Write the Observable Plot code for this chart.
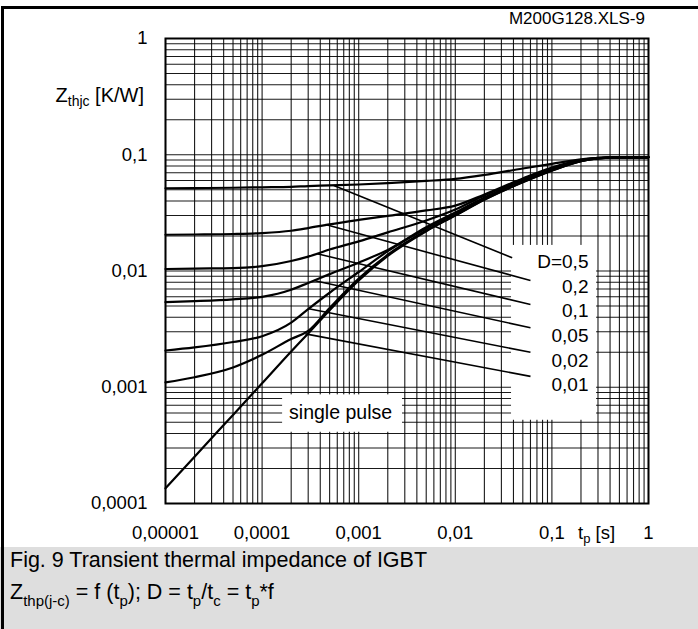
<!DOCTYPE html>
<html><head><meta charset="utf-8">
<script src="https://cdn.jsdelivr.net/npm/d3@7"></script>
<script src="https://cdn.jsdelivr.net/npm/@observablehq/plot@0.6"></script>
<style>
html,body{margin:0;padding:0;background:#fff;}
#wrap{position:relative;width:698px;height:629px;overflow:hidden;font-family:"Liberation Sans",Arial,sans-serif;background:#fff;}
#chart{position:absolute;left:0;top:0;}
#caption{position:absolute;left:0;top:547px;width:698px;height:82px;background:#dedede;color:#000;font-size:21.5px;}
#caption .l{position:absolute;left:10px;line-height:21px;white-space:nowrap;}
#caption .s{font-size:15px;position:relative;top:7px;}
#topbar{position:absolute;left:1px;top:6px;width:697px;height:3px;background:#000;}
#leftbar{position:absolute;left:1px;top:6px;width:3px;height:623px;background:#000;}
</style></head>
<body>
<div id="wrap">
  <div id="chart"></div>
  <div id="caption">
    <div class="l" style="top:3px">Fig. 9 Transient thermal impedance of IGBT</div>
    <div class="l" style="top:35px">Z<span class="s">thp(j-c)</span> = f (t<span class="s">p</span>); D = t<span class="s">p</span>/t<span class="s">c</span> = t<span class="s">p</span>*f</div>
  </div>
  <div id="topbar"></div>
  <div id="leftbar"></div>
</div>
<script>
// ---- data ----
const tp = [1e-5, 2e-5, 5e-5, 1e-4, 2e-4, 3e-4, 5e-4, 1e-3, 2e-3, 5e-3, 1e-2, 2e-2, 5e-2, 0.1, 0.2, 0.3, 0.5, 1];
const singlePulse = [1.35e-4, 2.53e-4, 5.78e-4, 1.08e-3, 2.03e-3, 2.9e-3, 4.6e-3, 8.3e-3, 0.0135, 0.022, 0.030, 0.041, 0.058, 0.073, 0.088, 0.093, 0.095, 0.095];
const d001 = [1.10e-3, 1.22e-3, 1.48e-3, 1.9e-3, 2.6e-3, 3.05e-3, 4.8e-3, 8.6e-3, 0.0138, 0.0223, 0.0303, 0.0412, 0.0582, 0.0732, 0.0881, 0.093, 0.095, 0.095];
const d002 = [2.07e-3, 2.2e-3, 2.45e-3, 2.75e-3, 3.6e-3, 4.7e-3, 6.5e-3, 9.8e-3, 0.0148, 0.0232, 0.031, 0.042, 0.0588, 0.0738, 0.0885, 0.0932, 0.095, 0.095];
const d005 = [5.4e-3, 5.5e-3, 5.7e-3, 6.0e-3, 6.9e-3, 7.9e-3, 9.4e-3, 0.0118, 0.0152, 0.0238, 0.0318, 0.0428, 0.0595, 0.0745, 0.089, 0.0935, 0.095, 0.095];
const d01  = [0.0104, 0.0105, 0.0106, 0.0110, 0.0122, 0.0133, 0.0153, 0.0180, 0.0215, 0.0272, 0.0338, 0.0446, 0.0608, 0.0755, 0.0893, 0.0937, 0.095, 0.095];
const d02  = [0.0205, 0.0206, 0.0208, 0.0212, 0.0222, 0.0234, 0.0252, 0.0275, 0.0298, 0.0332, 0.0365, 0.0455, 0.0625, 0.0775, 0.0902, 0.094, 0.095, 0.095];
const d05  = [0.0515, 0.0517, 0.052, 0.0525, 0.053, 0.0538, 0.0545, 0.0555, 0.057, 0.0595, 0.062, 0.067, 0.0762, 0.0835, 0.0912, 0.0942, 0.095, 0.095];

const seriesNames = ["single", "0.01", "0.02", "0.05", "0.1", "0.2", "0.5"];
const seriesValues = [singlePulse, d001, d002, d005, d01, d02, d05];

const xTicks = [1e-5, 1e-4, 1e-3, 1e-2, 1e-1, 1];
const xTickLabels = ["0,00001", "0,0001", "0,001", "0,01", "0,1", "1"];
const yTicks = [1e-4, 1e-3, 1e-2, 1e-1, 1];
const yTickLabels = ["0,0001", "0,001", "0,01", "0,1", "1"];

// leader lines: start on curve -> end at label
const leaderX1 = [5.52e-4, 4.53e-4, 3.72e-4, 3.43e-4, 3.04e-4, 2.81e-4];
const leaderY1 = [0.0544, 0.0251, 0.01406, 0.00828, 0.00473, 0.00288];
const leaderX2 = [0.0388, 0.060, 0.060, 0.060, 0.060, 0.060];
const leaderY2 = [0.0130, 0.00828, 0.00515, 0.00325, 0.0020, 0.00124];
const dLabels = ["D=0,5", "0,2", "0,1", "0,05", "0,02", "0,01"];
const dLabelX = 0.239;
const dLabelY = [0.01207, 0.00736, 0.00457, 0.00279, 0.0017, 0.001056];

// white label backgrounds (data units)
const boxX1 = [1.63e-4, 0.0382];
const boxX2 = [2.84e-3, 0.29];
const boxY1 = [4.1e-4, 5.2e-4];
const boxY2 = [8.6e-4, 0.0166];

// ---- build tables ----
const rows = [];
seriesNames.forEach((s, k) => tp.forEach((t, i) => rows.push({series: s, t, z: seriesValues[k][i]})));
const leaders = leaderX1.map((x1, i) => ({x1, y1: leaderY1[i], x2: leaderX2[i], y2: leaderY2[i]}));
const labels = dLabels.map((text, i) => ({text, x: dLabelX, y: dLabelY[i]}));
const boxes = boxX1.map((x1, i) => ({x1, x2: boxX2[i], y1: boxY1[i], y2: boxY2[i]}));
const mult = [1,2,3,4,5,6,7,8,9];
const xGrid = [-5,-4,-3,-2,-1].flatMap(e => mult.map(m => m * Math.pow(10, e))).concat([1]);
const yGrid = [-4,-3,-2,-1].flatMap(e => mult.map(m => m * Math.pow(10, e))).concat([1]);

const chart = Plot.plot({
  width: 698, height: 547,
  marginLeft: 165, marginRight: 50, marginTop: 38, marginBottom: 44,
  x: {type: "log", domain: [1e-5, 1]},
  y: {type: "log", domain: [1e-4, 1]},
  style: {fontFamily: "'Liberation Sans', Arial, sans-serif", fontSize: "18.5px", background: "transparent", color: "#000", overflow: "visible"},
  marks: [
    Plot.ruleX(xGrid, {stroke: "#000", strokeWidth: 1.1, strokeOpacity: 0.9}),
    Plot.ruleY(yGrid, {stroke: "#000", strokeWidth: 1.1, strokeOpacity: 0.9}),
    Plot.rect(boxes, {x1: "x1", x2: "x2", y1: "y1", y2: "y2", fill: "white"}),
    Plot.frame({stroke: "#000", strokeWidth: 2}),
    Plot.link(leaders, {x1: "x1", y1: "y1", x2: "x2", y2: "y2", stroke: "#000", strokeWidth: 1.6}),
    Plot.line(rows, {x: "t", y: "z", z: "series", stroke: "#000", strokeWidth: 2.2, curve: "monotone-x"}),
    Plot.text(labels, {x: "x", y: "y", text: "text", textAnchor: "end", fontSize: 19, fill: "#000"}),
    Plot.text(["single pulse"], {x: [6.49e-4], y: [6.07e-4], text: d => d, fontSize: 19.5, fill: "#000"}),
    Plot.axisX({ticks: xTicks, tickFormat: d => xTickLabels[xTicks.indexOf(d)], tickSize: 0, tickPadding: 22, label: null, fontSize: 18.5}),
    Plot.axisY({ticks: yTicks, tickFormat: d => yTickLabels[yTicks.indexOf(d)], tickSize: 0, tickPadding: 18, label: null, fontSize: 18.5})
  ]
});
document.getElementById("chart").appendChild(chart);

const svg = d3.select(chart);
// y axis label with subscript
const yl = svg.append("text").attr("x", 144).attr("y", 102).attr("text-anchor", "end")
  .attr("font-size", 20).attr("fill", "#000");
yl.append("tspan").text("Z");
yl.append("tspan").attr("font-size", 14).attr("dy", 4).text("thjc");
yl.append("tspan").attr("dy", -4).text(" [K/W]");
// x axis label with subscript
const xl = svg.append("text").attr("x", 578).attr("y", 538.5).attr("text-anchor", "start")
  .attr("font-size", 18.5).attr("fill", "#000");
xl.append("tspan").text("t");
xl.append("tspan").attr("font-size", 13).attr("dy", 4).text("p");
xl.append("tspan").attr("dy", -4).text(" [s]");
// file id
svg.append("text").attr("x", 645).attr("y", 24).attr("text-anchor", "end")
  .attr("font-size", 17).attr("fill", "#000").text("M200G128.XLS-9");
</script>
</body></html>
